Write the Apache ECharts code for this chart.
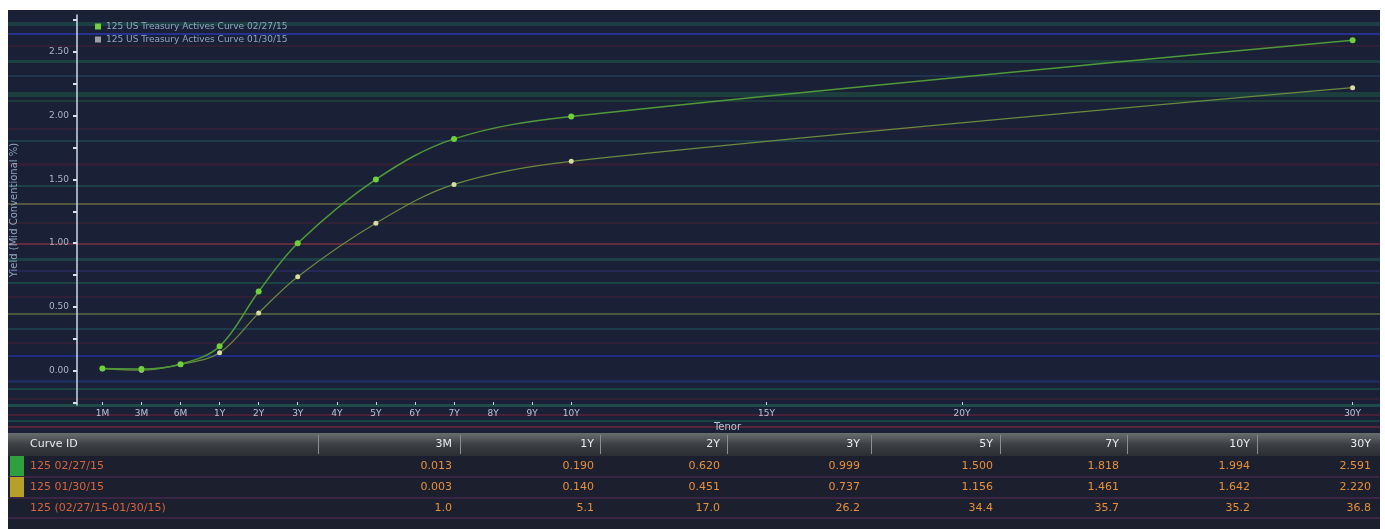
<!DOCTYPE html>
<html>
<head>
<meta charset="utf-8">
<script src="https://cdn.jsdelivr.net/npm/echarts@6/dist/echarts.min.js"></script>
<style>
html,body{margin:0;padding:0;background:#ffffff;}
#c{position:absolute;left:0;top:0;width:1385px;height:529px;}
</style>
</head>
<body>
<div id="c"></div>
<script>
// ---- data ----
const tenorLabels = ['1M','3M','6M','1Y','2Y','3Y','4Y','5Y','6Y','7Y','8Y','9Y','10Y','15Y','20Y','30Y'];
const tenorPos    = [0,1,2,3,4,5,6,7,8,9,10,11,12,17,22,32];
const curveTenors = ['1M','3M','6M','1Y','2Y','3Y','5Y','7Y','10Y','30Y'];
const curveA = [0.016, 0.013, 0.050, 0.190, 0.620, 0.999, 1.500, 1.818, 1.994, 2.591];
const curveB = [0.015, 0.003, 0.048, 0.140, 0.451, 0.737, 1.156, 1.461, 1.642, 2.220];
const seriesNames = ['125 US Treasury Actives Curve 02/27/15', '125 US Treasury Actives Curve 01/30/15'];
const yTickLabels = [0, 0.5, 1.0, 1.5, 2.0, 2.5];

const tableHeader = ['Curve ID','3M','1Y','2Y','3Y','5Y','7Y','10Y','30Y'];
const tableRowIds = ['125 02/27/15','125 01/30/15','125 (02/27/15-01/30/15)'];
const tableRowA = ['0.013','0.190','0.620','0.999','1.500','1.818','1.994','2.591'];
const tableRowB = ['0.003','0.140','0.451','0.737','1.156','1.461','1.642','2.220'];
const tableRowD = ['1.0','5.1','17.0','26.2','34.4','35.7','35.2','36.8'];

// ---- helpers ----
const posOf = t => tenorPos[tenorLabels.indexOf(t)];
const dataA = curveTenors.map((t,i)=>[posOf(t), curveA[i]]);
const dataB = curveTenors.map((t,i)=>[posOf(t), curveB[i]]);
const labelAt = v => { const i = tenorPos.indexOf(Math.round(v)); return i >= 0 ? tenorLabels[i] : ''; };
const quarterTicks = []; for (let k = -1; k <= 11; k++) quarterTicks.push(k*0.25);

const FONT = 'DejaVu Sans';
const chart = echarts.init(document.getElementById('c'), null, {renderer:'canvas'});

// decorative background and table
const graphics = [];
graphics.push({type:'rect', z:-10, silent:true, shape:{x:8,y:10,width:1372,height:519}, style:{fill:'#1a2136'}});
// scan-like stripes
const stripes = [
  [22,'#1e4a4a',4],[33,'#2a36b0',2],[45,'#3a2033',2],[60,'#1f4b45',3],[75,'#203e55',2],[92,'#1d4a40',5],[100,'#22443a',2],
  [128,'#3a2238',2],[140,'#1e4655',2],[163,'#3a1f35',3],[185,'#1f4b4a',2],[203,'#6a6a40',2],[222,'#3a2236',2],
  [243,'#7a3040',2],[258,'#1f4b4a',3],[270,'#2a2a60',2],[282,'#1f4e48',2],[296,'#3a2035',2],[313,'#5a6a40',2],
  [328,'#1e4655',2],[342,'#3a2035',2],[355,'#2030a0',2],[380,'#20306a',3],[388,'#1f4e48',2],[398,'#3a2236',2],
  [404,'#1f5a50',3],[414,'#5a2036',2],[420,'#1f4e48',2],[426,'#6a2a3a',2]
];
stripes.forEach(s=>graphics.push({type:'rect', z:-9, silent:true, shape:{x:8,y:s[0],width:1372,height:s[2]}, style:{fill:s[1], opacity:0.75}}));

// table
const colRight = [0,452,594,720,860,993,1119,1250,1371];
const colSep = [318,460,600,727,871,1000,1127,1257];
graphics.push({type:'rect', silent:true, shape:{x:8,y:433,width:1372,height:23},
  style:{fill:new echarts.graphic.LinearGradient(0,0,0,1,[{offset:0,color:'#6a6e70'},{offset:0.5,color:'#3c4044'},{offset:1,color:'#2a2e32'}])}});
graphics.push({type:'rect', silent:true, shape:{x:8,y:456,width:1372,height:73}, style:{fill:'#1b1f2e'}});
[467,488,508].forEach(y=>graphics.push({type:'rect', silent:true, shape:{x:8,y:y+9,width:1372,height:2}, style:{fill:'#3a2545'}}));
colSep.forEach(x=>graphics.push({type:'rect', silent:true, shape:{x:x,y:435,width:1,height:19}, style:{fill:'#8a8e90'}}));
graphics.push({type:'rect', silent:true, shape:{x:10,y:456,width:14,height:20}, style:{fill:'#2fa040'}});
graphics.push({type:'rect', silent:true, shape:{x:10,y:477,width:14,height:20}, style:{fill:'#b8a028'}});
tableHeader.forEach((h,i)=>{
  graphics.push({type:'text', silent:true, style:{text:h, x: i===0?30:colRight[i], y:444, align: i===0?'left':'right', verticalAlign:'middle', fill:'#e8ecf0', font:'11px '+FONT}});
});
[tableRowA, tableRowB, tableRowD].forEach((row,r)=>{
  const y = 466 + r*21;
  graphics.push({type:'text', silent:true, style:{text:tableRowIds[r], x:30, y:y, align:'left', verticalAlign:'middle', fill:'#d8643e', font:'11px '+FONT}});
  row.forEach((v,i)=>graphics.push({type:'text', silent:true, style:{text:v, x:colRight[i+1], y:y, align:'right', verticalAlign:'middle', fill:'#e8903a', font:'11px '+FONT}}));
});

chart.setOption({
  backgroundColor:'transparent',
  animation:false,
  textStyle:{fontFamily:FONT},
  graphic:graphics,
  legend:{
    orient:'vertical', left:90, top:17, itemWidth:6, itemHeight:6, itemGap:4,
    icon:'rect',
    textStyle:{color:'#8ea6c0', fontSize:9, fontFamily:FONT},
    data:[{name:seriesNames[0], itemStyle:{color:'#6fd03a'}},{name:seriesNames[1], itemStyle:{color:'#9aa0a0'}}]
  },
  grid:{left:77, right:7, top:15, bottom:124},
  xAxis:{
    type:'value', min:-0.65, max:32.65,
    name:'Tenor', nameLocation:'middle', nameGap:16,
    nameTextStyle:{color:'#b8c4d4', fontSize:10},
    axisLine:{show:false, onZero:false},
    axisTick:{show:true, customValues:tenorPos, length:3, inside:true, lineStyle:{color:'#c8d0dc'}},
    axisLabel:{customValues:tenorPos, formatter:v=>labelAt(v), color:'#b8c4d8', fontSize:9, margin:4},
    splitLine:{show:false}
  },
  yAxis:{
    type:'value', min:-0.27, max:2.79,
    name:'Yield (Mid Conventional %)', nameLocation:'middle', nameGap:58, nameRotate:90,
    nameTextStyle:{color:'#8ea6c0', fontSize:10},
    axisLine:{show:true, onZero:false, lineStyle:{color:'#c8d8e8', width:1.5}},
    axisTick:{show:true, customValues:quarterTicks, length:4, inside:false, lineStyle:{color:'#d8e0ea', width:2}},
    axisLabel:{customValues:yTickLabels, formatter:v=>v.toFixed(2), color:'#a8b4c8', fontSize:9, margin:8},
    splitLine:{show:false}
  },
  series:[
    {name:seriesNames[0], type:'line', data:dataA, smooth:0.35, symbol:'circle', symbolSize:6,
     lineStyle:{color:'#4f9a38', width:1.5}, itemStyle:{color:'#6fd03a'}, z:3},
    {name:seriesNames[1], type:'line', data:dataB, smooth:0.35, symbol:'circle', symbolSize:5,
     lineStyle:{color:'#6a8a40', width:1.2}, itemStyle:{color:'#d8dca0'}, z:2}
  ]
});
</script>
</body>
</html>
